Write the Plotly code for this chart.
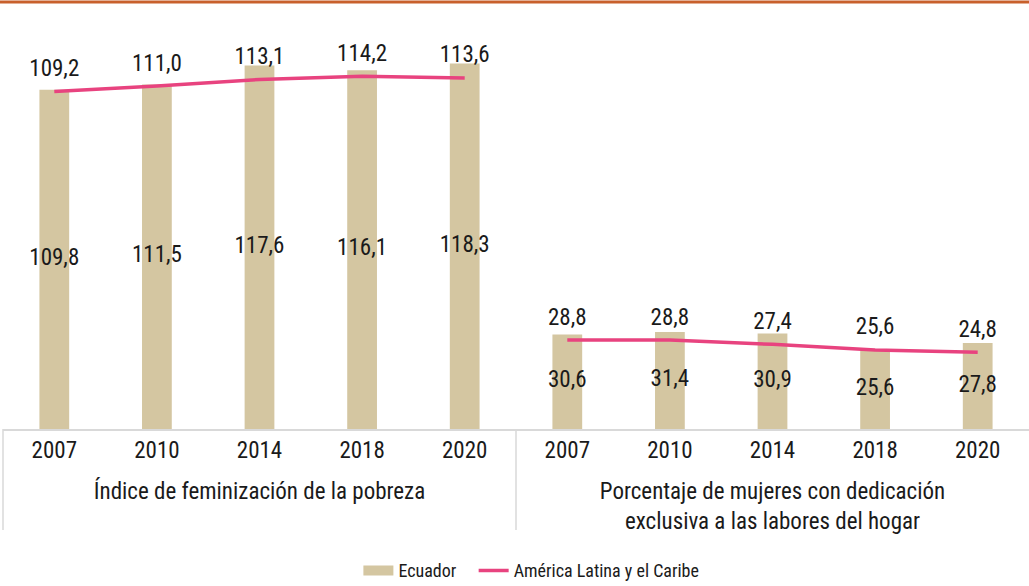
import plotly.graph_objects as go

groups = ["Índice de feminización de la pobreza",
          "Porcentaje de mujeres con dedicación<br>exclusiva a las labores del hogar"]
years = ["2007", "2010", "2014", "2018", "2020"]
ecuador_pobreza = [109.8, 111.5, 117.6, 116.1, 118.3]
ecuador_hogar = [30.6, 31.4, 30.9, 25.6, 27.8]
alc_pobreza = [109.2, 111.0, 113.1, 114.2, 113.6]
alc_hogar = [28.8, 28.8, 27.4, 25.6, 24.8]

FONT = "Liberation Sans Narrow, Roboto Condensed, DejaVu Sans Condensed, sans-serif"
BAR_COLOR = "#d4c6a1"
LINE_COLOR = "#e8437f"
AXIS_COLOR = "#d9d9d9"
TEXT_COLOR = "#1a1a1a"
FS = 23


def fmt(v):
    return f"{v:.1f}".replace(".", ",")


fig = go.Figure()
panels = [("x", ecuador_pobreza, alc_pobreza), ("x2", ecuador_hogar, alc_hogar)]
for i, (xa, ec, alc) in enumerate(panels):
    fig.add_trace(go.Bar(
        x=years, y=ec, xaxis=xa, yaxis="y", name="Ecuador",
        marker=dict(color=BAR_COLOR, line=dict(width=0)), width=0.29,
        showlegend=False, legendgroup="ec", hoverinfo="skip"))
    # Ecuador value labels, centred in the bars
    fig.add_trace(go.Scatter(
        x=years, y=[v / 2 for v in ec], xaxis=xa, yaxis="y", mode="text",
        text=[fmt(v) for v in ec], textfont=dict(size=FS, color=TEXT_COLOR, family=FONT),
        showlegend=False, hoverinfo="skip"))
    if i == 0:
        # legend entry for Ecuador (wide swatch)
        fig.add_trace(go.Scatter(
            x=[years[0]], y=[None], xaxis=xa, yaxis="y", mode="lines",
            name="Ecuador\u00a0\u00a0\u00a0", legendgroup="ec",
            line=dict(color=BAR_COLOR, width=13), hoverinfo="skip"))
    fig.add_trace(go.Scatter(
        x=years, y=alc, xaxis=xa, yaxis="y", mode="lines+markers+text",
        name="América Latina y el Caribe", legendgroup="alc", showlegend=(i == 0),
        line=dict(color=LINE_COLOR, width=3.5),
        marker=dict(size=14, color="rgba(0,0,0,0)"),
        text=[fmt(v) for v in alc], textposition="top center",
        textfont=dict(size=FS, color=TEXT_COLOR, family=FONT), hoverinfo="skip"))

xcommon = dict(type="category", showline=True, linecolor=AXIS_COLOR, linewidth=1.5,
               ticks="", showgrid=False, zeroline=False, range=[-0.5, 4.5],
               tickfont=dict(size=FS, family=FONT, color=TEXT_COLOR),
               anchor="y", fixedrange=True, automargin=False)

fig.update_layout(
    width=1029, height=586,
    margin=dict(l=3, r=0, t=10, b=157, autoexpand=False),
    paper_bgcolor="white", plot_bgcolor="white",
    font=dict(family=FONT, size=FS, color=TEXT_COLOR),
    showlegend=True,
    legend=dict(orientation="h", x=0.515, xanchor="center", yref="container",
                y=0.026, yanchor="middle",
                font=dict(size=18, family=FONT), traceorder="normal"),
    xaxis=dict(domain=[0, 0.5], title=dict(text=groups[0], standoff=20,
               font=dict(size=FS, family=FONT, color=TEXT_COLOR)), **xcommon),
    xaxis2=dict(domain=[0.5, 1], title=dict(text=groups[1], standoff=20,
                font=dict(size=FS, family=FONT, color=TEXT_COLOR)), **xcommon),
    yaxis=dict(range=[0, 135.6], visible=False, showgrid=False, fixedrange=True),
    shapes=[
        dict(type="line", xref="paper", yref="paper", x0=-0.01, x1=1.01,
             y0=1.019, y1=1.019, line=dict(color="#c8602c", width=3)),
        dict(type="line", xref="paper", yref="paper", x0=0, x1=0,
             y0=0, y1=-0.241, line=dict(color=AXIS_COLOR, width=1.5)),
        dict(type="line", xref="paper", yref="paper", x0=0.5, x1=0.5,
             y0=0, y1=-0.241, line=dict(color=AXIS_COLOR, width=1.5)),
    ],
)
fig.write_html("out.html", config={"displayModeBar": False},
               post_script="document.body.style.margin='0';document.body.style.padding='0';")
